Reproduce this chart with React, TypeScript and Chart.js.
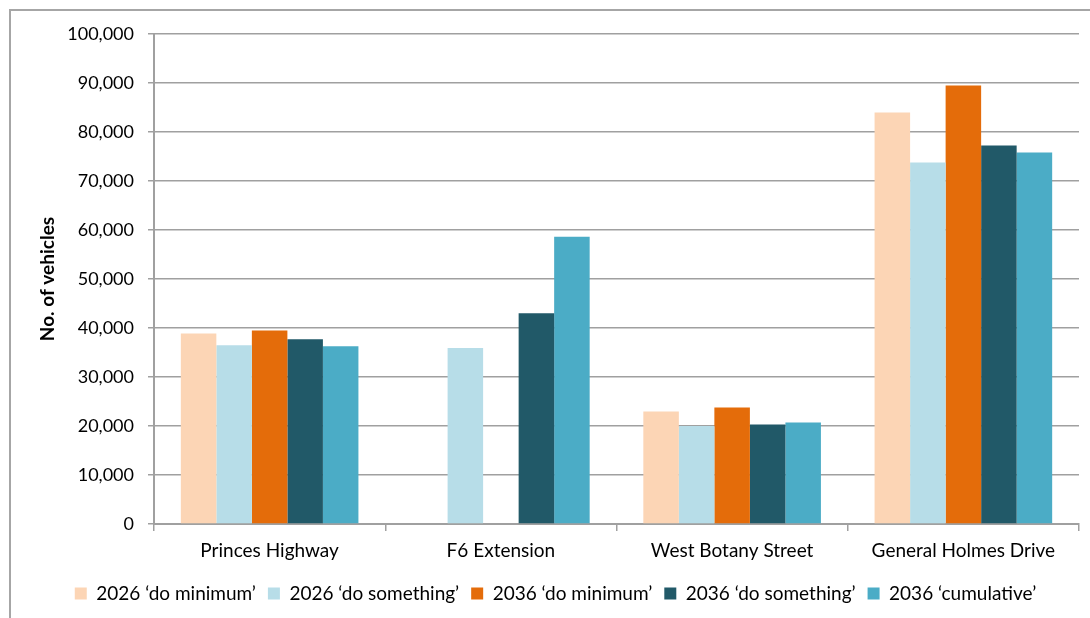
import React, { useEffect, useRef } from "react";
import { Chart, registerables } from "chart.js";

Chart.register(...registerables);

const categories = ["Princes Highway", "F6 Extension", "West Botany Street", "General Holmes Drive"];
const seriesNames = ["2026 \u2018do minimum\u2019", "2026 \u2018do something\u2019", "2036 \u2018do minimum\u2019", "2036 \u2018do something\u2019", "2036 \u2018cumulative\u2019"];
const doMin2026 = [38900, null, 22950, 84000];
const doSome2026 = [36500, 35900, 20000, 73800];
const doMin2036 = [39500, null, 23800, 89500];
const doSome2036 = [37700, 43000, 20300, 77250];
const cumulative2036 = [36300, 58600, 20700, 75800];
const seriesColors = ["#FCD5B5", "#B7DDE8", "#E46C0A", "#215968", "#4BACC6"];
const yMin = 0;
const yMax = 100000;
const yStep = 10000;

const FONT = "Lato, 'Open Sans', sans-serif";

export default function App() {
  const ref = useRef<HTMLCanvasElement | null>(null);
  useEffect(() => {
    if (!ref.current) return;
    const values = [doMin2026, doSome2026, doMin2036, doSome2036, cumulative2036];
    const chart = new Chart(ref.current, {
      type: "bar",
      data: {
        labels: categories,
        datasets: values.map((v, i) => ({
          label: seriesNames[i],
          data: v,
          backgroundColor: seriesColors[i],
          borderWidth: 0,
          categoryPercentage: 0.768,
          barPercentage: 1,
        })),
      },
      options: {
        responsive: false,
        animation: false,
        layout: { padding: { left: 32, right: 11, top: 34, bottom: 5 } },
        plugins: {
          tooltip: { enabled: false },
          legend: {
            position: "bottom",
            labels: {
              boxWidth: 12,
              boxHeight: 12,
              padding: 12,
              color: "#000",
              font: { family: FONT, size: 19 },
            },
          },
        },
        scales: {
          x: {
            offset: true,
            grid: {
              display: true,
              drawOnChartArea: false,
              drawTicks: true,
              tickLength: 7,
              color: "#a0a0a0",
              lineWidth: 1.5,
            },
            border: { display: true, color: "#a0a0a0", width: 2 },
            ticks: { color: "#000", font: { family: FONT, size: 19 }, padding: 8, maxRotation: 0 },
            afterFit: (s: any) => { s.height = 48; },
          },
          y: {
            min: yMin,
            max: yMax,
            ticks: {
              stepSize: yStep,
              color: "#000",
              padding: 14,
              font: { family: FONT, size: 18 },
              callback: (v: any) => Number(v).toLocaleString("en-US"),
            },
            grid: { color: "#a0a0a0", lineWidth: 1.5, tickLength: 6, drawTicks: true },
            border: { display: true, color: "#a0a0a0", width: 2 },
            title: {
              display: true,
              text: "No. of vehicles",
              color: "#000",
              font: { family: FONT, size: 19, weight: "bold" },
            },
            afterFit: (s: any) => { s.width = 122; },
          },
        },
      },
    });
    return () => chart.destroy();
  }, []);
  return (
    <div style={{ position: "absolute", left: 0, top: 0, width: 1090, height: 618, overflow: "hidden", background: "#fff" }}>
      <div style={{ position: "absolute", left: 9, top: 9, width: 1200, height: 800, border: "2px solid #a6a6a6", boxSizing: "border-box" }} />
      <canvas ref={ref} width={1090} height={618} style={{ position: "absolute", left: 0, top: 0 }} />
    </div>
  );
}
